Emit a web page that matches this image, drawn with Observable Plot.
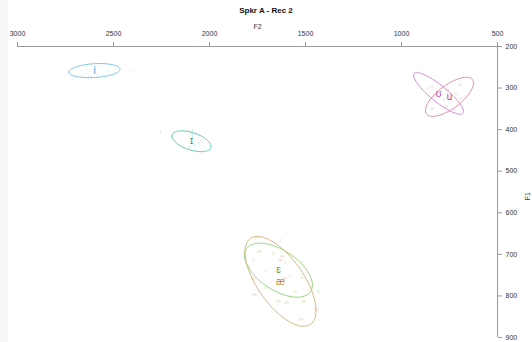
<!DOCTYPE html>
<html><head><meta charset="utf-8">
<script src="https://cdn.jsdelivr.net/npm/d3@7"></script>
<script src="https://cdn.jsdelivr.net/npm/@observablehq/plot@0.6"></script>
<style>
body{margin:0;background:linear-gradient(to right,#f6f6f6 8px,#fff 8px);font-family:"Liberation Sans",Arial,sans-serif;}
#title{height:18px;line-height:21px;text-align:center;font-weight:bold;font-size:8px;color:#111;}
</style></head><body>
<div id="chart"><div id="title">Spkr A - Rec 2</div></div>
<script>
// vowel categories and summary values (Hz)
const vowels   = ["i", "ɪ", "ɛ", "æ", "ʊ", "u"];
const meanF2   = [2599, 2094, 1641, 1630, 807, 750];
const meanF1   = [258, 428, 738, 765, 313, 321];
const sdF2     = [133, 102, 177, 185, 130, 125];
const sdF1     = [17, 25, 65, 108, 50, 47];
const corrF    = [0.2, -0.5, -0.55, -0.65, -0.87, 0.7];
const lineColors  = ["#6cbde6", "#4dbfac", "#8fcf73", "#d2b07a", "#d37ad8", "#e07f9e"];
const labelColors = ["#2f9fd8", "#1f9f8f", "#5aa83a", "#c28a3a", "#b040c0", "#d03a70"];

// individual tokens
const tokenVowel = ["i","i","i","i","i","i",
  "ɪ","ɪ","ɪ","ɪ","ɪ","ɪ","ɪ",
  "ɛ","ɛ","ɛ","ɛ","ɛ","ɛ","ɛ","ɛ","ɛ","ɛ","ɛ",
  "æ","æ","æ","æ","æ","æ","æ","æ","æ","æ","æ","æ",
  "ʊ","ʊ","ʊ","ʊ","ʊ",
  "u","u","u","u","u","u"];
const tokenF2 = [2708, 2646, 2594, 2526, 2411, 2630,
  2255, 2089, 2089, 2078, 2057, 2042, 2104,
  1630, 1667, 1771, 1792, 1604, 1708, 1583, 1516, 1708, 1552, 1432,
  1750, 1740, 1620, 1630, 1609, 1771, 1766, 1641, 1599, 1510, 1443, 1521,
  865, 844, 828, 776, 724,
  839, 766, 714, 698, 693, 760];
const tokenF1 = [277, 253, 250, 258, 258, 270,
  407, 400, 414, 438, 433, 426, 443,
  666, 698, 714, 729, 719, 738, 753, 755, 779, 789, 789,
  659, 693, 705, 714, 758, 758, 796, 813, 815, 813, 832, 856,
  299, 296, 320, 327, 351,
  349, 344, 311, 291, 325, 306];

const xTicks = [3000, 2500, 2000, 1500, 1000, 500];
const yTicks = [200, 300, 400, 500, 600, 700, 800, 900];

const tokens = tokenVowel.map((v, i) => ({vowel: v, F2: tokenF2[i], F1: tokenF1[i]}));
const means = vowels.map((v, i) => ({vowel: v, F2: meanF2[i], F1: meanF1[i]}));

// ellipse outline from mean, sd and correlation
function ellipse(i) {
  const r = corrF[i], q = Math.sqrt(1 - r * r);
  return d3.range(0, 361, 4).map(a => {
    const t = a * Math.PI / 180;
    return {F2: meanF2[i] + sdF2[i] * Math.cos(t),
            F1: meanF1[i] + sdF1[i] * (r * Math.cos(t) + q * Math.sin(t))};
  });
}

const marks = [
  Plot.ruleY([200], {x1: 3000, x2: 500, stroke: "#999", strokeWidth: 1}),
  Plot.ruleX([500], {y1: 200, y2: 900, stroke: "#999", strokeWidth: 1}),
  Plot.axisX({anchor: "top", ticks: xTicks, tickFormat: d => String(d), tickSize: 5, tickPadding: 6,
    stroke: "#999", fill: "#333", fontSize: 7, label: null}),
  Plot.axisY({anchor: "right", ticks: yTicks, tickFormat: d => String(d), tickSize: 4, tickPadding: 4,
    stroke: "#999", fill: "#333", fontSize: 7, label: null}),
  Plot.text(["F2"], {frameAnchor: "top", dy: -22, fill: "#333", fontSize: 7}),
  Plot.text(["F1"], {frameAnchor: "right", dx: 30, rotate: -90, fill: "#333", fontSize: 7})
];
vowels.forEach((v, i) => {
  marks.push(Plot.line(ellipse(i), {x: "F2", y: "F1", stroke: lineColors[i], strokeWidth: 0.9}));
  marks.push(Plot.text(tokens.filter(d => d.vowel === v), {x: "F2", y: "F1", text: "vowel",
    fill: lineColors[i], fillOpacity: 0.45, fontSize: 6}));
  marks.push(Plot.text(means.filter(d => d.vowel === v), {x: "F2", y: "F1", text: "vowel",
    fill: labelColors[i], fontSize: 10}));
});

const chart = Plot.plot({
  width: 532, height: 324,
  marginLeft: 17, marginRight: 35, marginTop: 28, marginBottom: 5,
  style: {fontFamily: "Liberation Sans, Arial, sans-serif", fontSize: "7px", color: "#333", background: "transparent"},
  x: {domain: [3000, 500]},
  y: {domain: [200, 900], reverse: true},
  marks
});
document.getElementById("chart").appendChild(chart);
</script>
</body></html>
